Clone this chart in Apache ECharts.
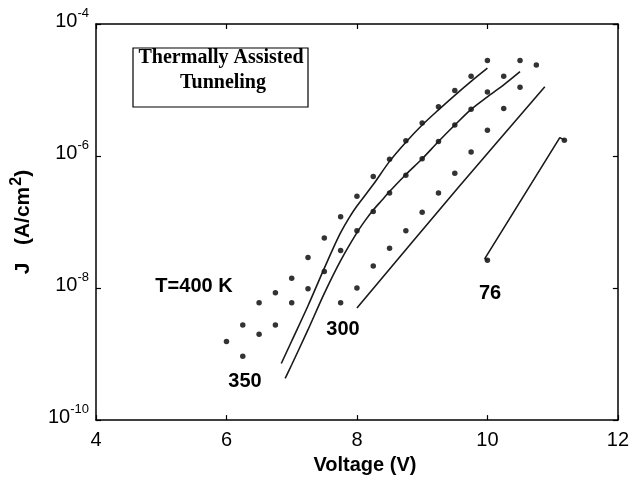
<!DOCTYPE html>
<html>
<head>
<meta charset="utf-8">
<title>Thermally Assisted Tunneling</title>
<script src="https://cdn.jsdelivr.net/npm/echarts@6/dist/echarts.min.js"></script>
<style>
  html, body { margin: 0; padding: 0; background: #fff; }
  #chart { width: 632px; height: 480px; }
</style>
</head>
<body>
<div id="chart"></div>
<script>
// measured points, voltage (V) and current density (A/cm^2)
const v400 = [6, 6.25, 6.5, 6.75, 7, 7.25, 7.5, 7.75, 8, 8.25, 8.5, 8.75, 9, 9.25, 9.5, 9.75, 10];
const j400 = [1.55e-9, 2.75e-9, 6.0e-9, 8.5e-9, 1.41e-8, 2.9e-8, 5.75e-8, 1.2e-7, 2.45e-7, 4.9e-7,
  8.9e-7, 1.7e-6, 3.16e-6, 5.6e-6, 9.8e-6, 1.62e-5, 2.8e-5];

const v350 = [6.25, 6.5, 6.75, 7, 7.25, 7.5, 7.75, 8, 8.25, 8.5, 8.75, 9, 9.25, 9.5, 9.75, 10, 10.25, 10.5];
const j350 = [9.3e-10, 2.0e-9, 2.75e-9, 6.0e-9, 9.8e-9, 1.78e-8, 3.7e-8, 7.4e-8, 1.45e-7, 2.75e-7,
  5.1e-7, 9.1e-7, 1.66e-6, 2.95e-6, 5.1e-6, 9.3e-6, 1.62e-5, 2.8e-5];

const v300 = [7.75, 8, 8.25, 8.5, 8.75, 9, 9.25, 9.5, 9.75, 10, 10.25, 10.5, 10.75];
const j300 = [6.0e-9, 1.0e-8, 2.15e-8, 4.0e-8, 7.4e-8, 1.41e-7, 2.75e-7, 5.5e-7, 1.15e-6, 2.45e-6,
  5.25e-6, 1.1e-5, 2.4e-5];

const v76 = [10, 11.18];
const j76 = [2.63e-8, 1.74e-6];

// model curves (thermally assisted tunneling fits)
const fitV400 = [6.84, 7, 7.25, 7.5, 7.625, 7.75, 7.875, 8, 8.25, 8.5, 8.75, 9, 9.25, 9.5, 9.75, 10];
const fitJ400 = [7.2e-10, 1.58e-9, 5.4e-9, 2.0e-8, 3.8e-8, 6.9e-8, 1.14e-7, 1.75e-7, 3.7e-7, 8.3e-7,
  1.62e-6, 2.95e-6, 5.0e-6, 8.3e-6, 1.35e-5, 2.14e-5];

const fitV350 = [6.9, 7, 7.25, 7.5, 7.75, 8, 8.125, 8.25, 8.375, 8.5, 8.75, 9, 9.25, 9.5, 9.75, 10, 10.25, 10.5];
const fitJ350 = [4.3e-10, 6.9e-10, 2.34e-9, 8.3e-9, 2.6e-8, 6.9e-8, 1.05e-7, 1.52e-7, 2.1e-7, 2.9e-7,
  5.25e-7, 9.1e-7, 1.66e-6, 2.95e-6, 5.1e-6, 7.9e-6, 1.2e-5, 1.9e-5];

const fitV300 = [8, 9.55, 10.88];
const fitJ300 = [5.0e-9, 3.3e-7, 1.12e-5];

const fitV76 = [10, 9.96, 11.11, 11.18];
const fitJ76 = [2.63e-8, 2.8e-8, 1.9e-6, 1.74e-6];

const xTicks = [4, 6, 8, 10, 12];

function pairs(xs, ys) {
  return xs.map((x, i) => [x, ys[i]]);
}

const chart = echarts.init(document.getElementById('chart'));

const sans = 'Liberation Sans, Arial, Helvetica, sans-serif';
const axisLine = { lineStyle: { color: '#000', width: 1.5 } };
const tick = { inside: true, length: 5, lineStyle: { color: '#000', width: 1.2 } };

function dots(xs, ys) {
  return {
    type: 'scatter',
    data: pairs(xs, ys),
    symbol: 'circle',
    symbolSize: 5.5,
    itemStyle: { color: '#000' },
    silent: true
  };
}

function fit(xs, ys) {
  return {
    type: 'line',
    data: pairs(xs, ys),
    showSymbol: false,
    smooth: 0.3,
    lineStyle: { color: '#1a1a1a', width: 1.6 },
    silent: true
  };
}

chart.setOption({
  backgroundColor: '#fff',
  animation: false,
  grid: { left: 96, right: 11, top: 24, bottom: 58 },
  xAxis: [
    {
      type: 'value',
      min: xTicks[0],
      max: xTicks[xTicks.length - 1],
      interval: 2,
      axisLine: axisLine,
      axisTick: tick,
      splitLine: { show: false },
      axisLabel: { color: '#000', fontSize: 20, fontFamily: sans, margin: 10 },
      name: 'Voltage (V)',
      nameLocation: 'middle',
      nameGap: 31,
      nameTextStyle: { color: '#000', fontSize: 20, fontWeight: 'bold', fontFamily: sans, padding: [0, 0, 0, 16] }
    },
    {
      type: 'value',
      position: 'top',
      min: xTicks[0],
      max: xTicks[xTicks.length - 1],
      interval: 2,
      axisLine: axisLine,
      axisTick: tick,
      axisLabel: { show: false },
      splitLine: { show: false }
    }
  ],
  yAxis: [
    {
      type: 'log',
      logBase: 10,
      min: 1e-10,
      max: 1e-4,
      interval: 2,
      axisLine: axisLine,
      axisTick: tick,
      minorTick: { show: false },
      splitLine: { show: false },
      axisLabel: {
        margin: 7,
        padding: [0, 0, 5, 0],
        formatter: function (v) {
          return '{b|10}{s|' + Math.round(Math.log10(v)) + '}';
        },
        rich: {
          b: { fontSize: 20, lineHeight: 20, fontFamily: sans, color: '#000', verticalAlign: 'bottom' },
          s: { fontSize: 13, lineHeight: 13, fontFamily: sans, color: '#000', verticalAlign: 'bottom', padding: [0, 0, 12, 0] }
        }
      },
      name: '{a|J   (A/cm}{s|2}{a|)}',
      nameLocation: 'middle',
      nameGap: 62,
      nameTextStyle: {
        rich: {
          a: { fontSize: 21, lineHeight: 23, fontWeight: 'bold', fontFamily: sans, color: '#000', verticalAlign: 'bottom' },
          s: { fontSize: 16, lineHeight: 16, fontWeight: 'bold', fontFamily: sans, color: '#000', verticalAlign: 'bottom', padding: [0, 0, 9, 1] }
        }
      }
    },
    {
      type: 'log',
      logBase: 10,
      position: 'right',
      min: 1e-10,
      max: 1e-4,
      interval: 2,
      axisLine: axisLine,
      axisTick: tick,
      axisLabel: { show: false },
      splitLine: { show: false }
    }
  ],
  series: [
    dots(v400, j400),
    dots(v350, j350),
    dots(v300, j300),
    dots(v76, j76),
    fit(fitV400, fitJ400),
    fit(fitV350, fitJ350),
    fit(fitV300, fitJ300),
    Object.assign(fit(fitV76, fitJ76), { smooth: false })
  ],
  graphic: [
    {
      type: 'rect',
      shape: { x: 133, y: 48, width: 175, height: 59 },
      style: { fill: '#fff', stroke: '#000', lineWidth: 1.2 },
      z: 10
    },
    {
      type: 'text',
      x: 221, y: 58,
      style: { text: 'Thermally Assisted', font: 'bold 20px "Liberation Serif", "Times New Roman", serif', fill: '#000', align: 'center', verticalAlign: 'middle' },
      z: 11
    },
    {
      type: 'text',
      x: 223, y: 83,
      style: { text: 'Tunneling', font: 'bold 20px "Liberation Serif", "Times New Roman", serif', fill: '#000', align: 'center', verticalAlign: 'middle' },
      z: 11
    },
    {
      type: 'text', x: 194, y: 286,
      style: { text: 'T=400 K', font: 'bold 20px ' + sans, fill: '#000', align: 'center', verticalAlign: 'middle' }
    },
    {
      type: 'text', x: 245, y: 381,
      style: { text: '350', font: 'bold 20px ' + sans, fill: '#000', align: 'center', verticalAlign: 'middle' }
    },
    {
      type: 'text', x: 343, y: 329,
      style: { text: '300', font: 'bold 20px ' + sans, fill: '#000', align: 'center', verticalAlign: 'middle' }
    },
    {
      type: 'text', x: 490, y: 293,
      style: { text: '76', font: 'bold 20px ' + sans, fill: '#000', align: 'center', verticalAlign: 'middle' }
    }
  ]
});
</script>
</body>
</html>
